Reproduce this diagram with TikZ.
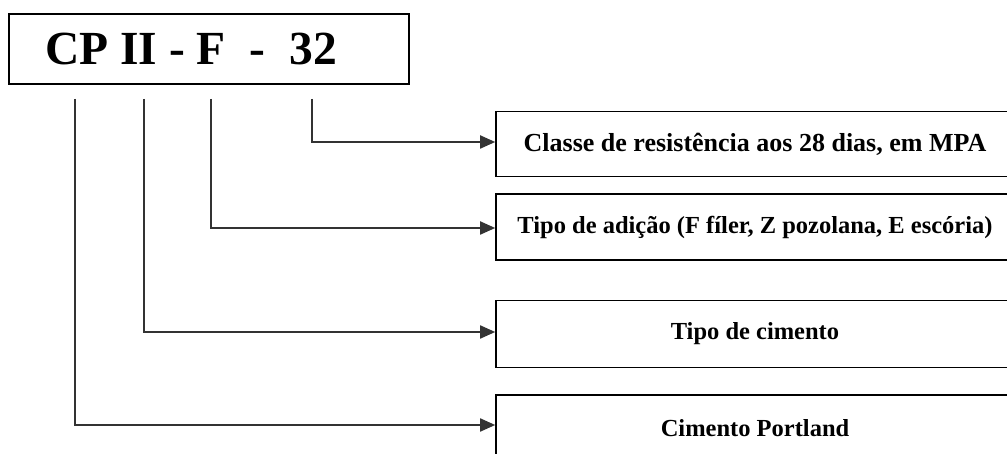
\documentclass[tikz,border=0pt]{standalone}
\usepackage{fontspec}
\setmainfont{Liberation Serif}
\usetikzlibrary{arrows.meta}
\begin{document}
\begin{tikzpicture}[x=1pt,y=-1pt,
  box/.style={draw=black,line width=1.6pt,fill=white,inner sep=0pt,font=\fontsize{24.5}{28}\selectfont\bfseries},
  conn/.style={draw=black!80,line width=1.8pt,-{Triangle[length=15pt,width=13pt]}}]
\useasboundingbox (0,0) rectangle (1007,454);
\clip (0,0) rectangle (1007,454);
\fill[white] (0,0) rectangle (1007,454);
\node[box,minimum width=400pt,minimum height=70pt,font=\fontsize{47.5}{50}\selectfont\bfseries] (title) at (209,49) {CP II - F\ \ -\ \ 32\rule{36pt}{0pt}};
\node[box,minimum width=518pt,minimum height=65pt,font=\fontsize{26}{28}\selectfont\bfseries] (b1) at (755,144) {Classe de resistência aos 28 dias, em MPA};
\node[box,minimum width=518pt,minimum height=66pt] (b2) at (755,227) {Tipo de adição (F fíler, Z pozolana, E escória)};
\node[box,minimum width=518pt,minimum height=67pt] (b3) at (755,334) {Tipo de cimento};
\node[box,minimum width=518pt,minimum height=66pt] (b4) at (755,428) {Cimento Portland};
\coordinate (s1) at (312,99);
\coordinate (s2) at (211,99);
\coordinate (s3) at (144,99);
\coordinate (s4) at (75,99);
\draw[conn] (s1) |- ([yshift=2pt]b1.west);
\draw[conn] (s2) |- ([yshift=-1pt]b2.west);
\draw[conn] (s3) |- ([yshift=2pt]b3.west);
\draw[conn] (s4) |- ([yshift=3pt]b4.west);
\end{tikzpicture}
\end{document}
